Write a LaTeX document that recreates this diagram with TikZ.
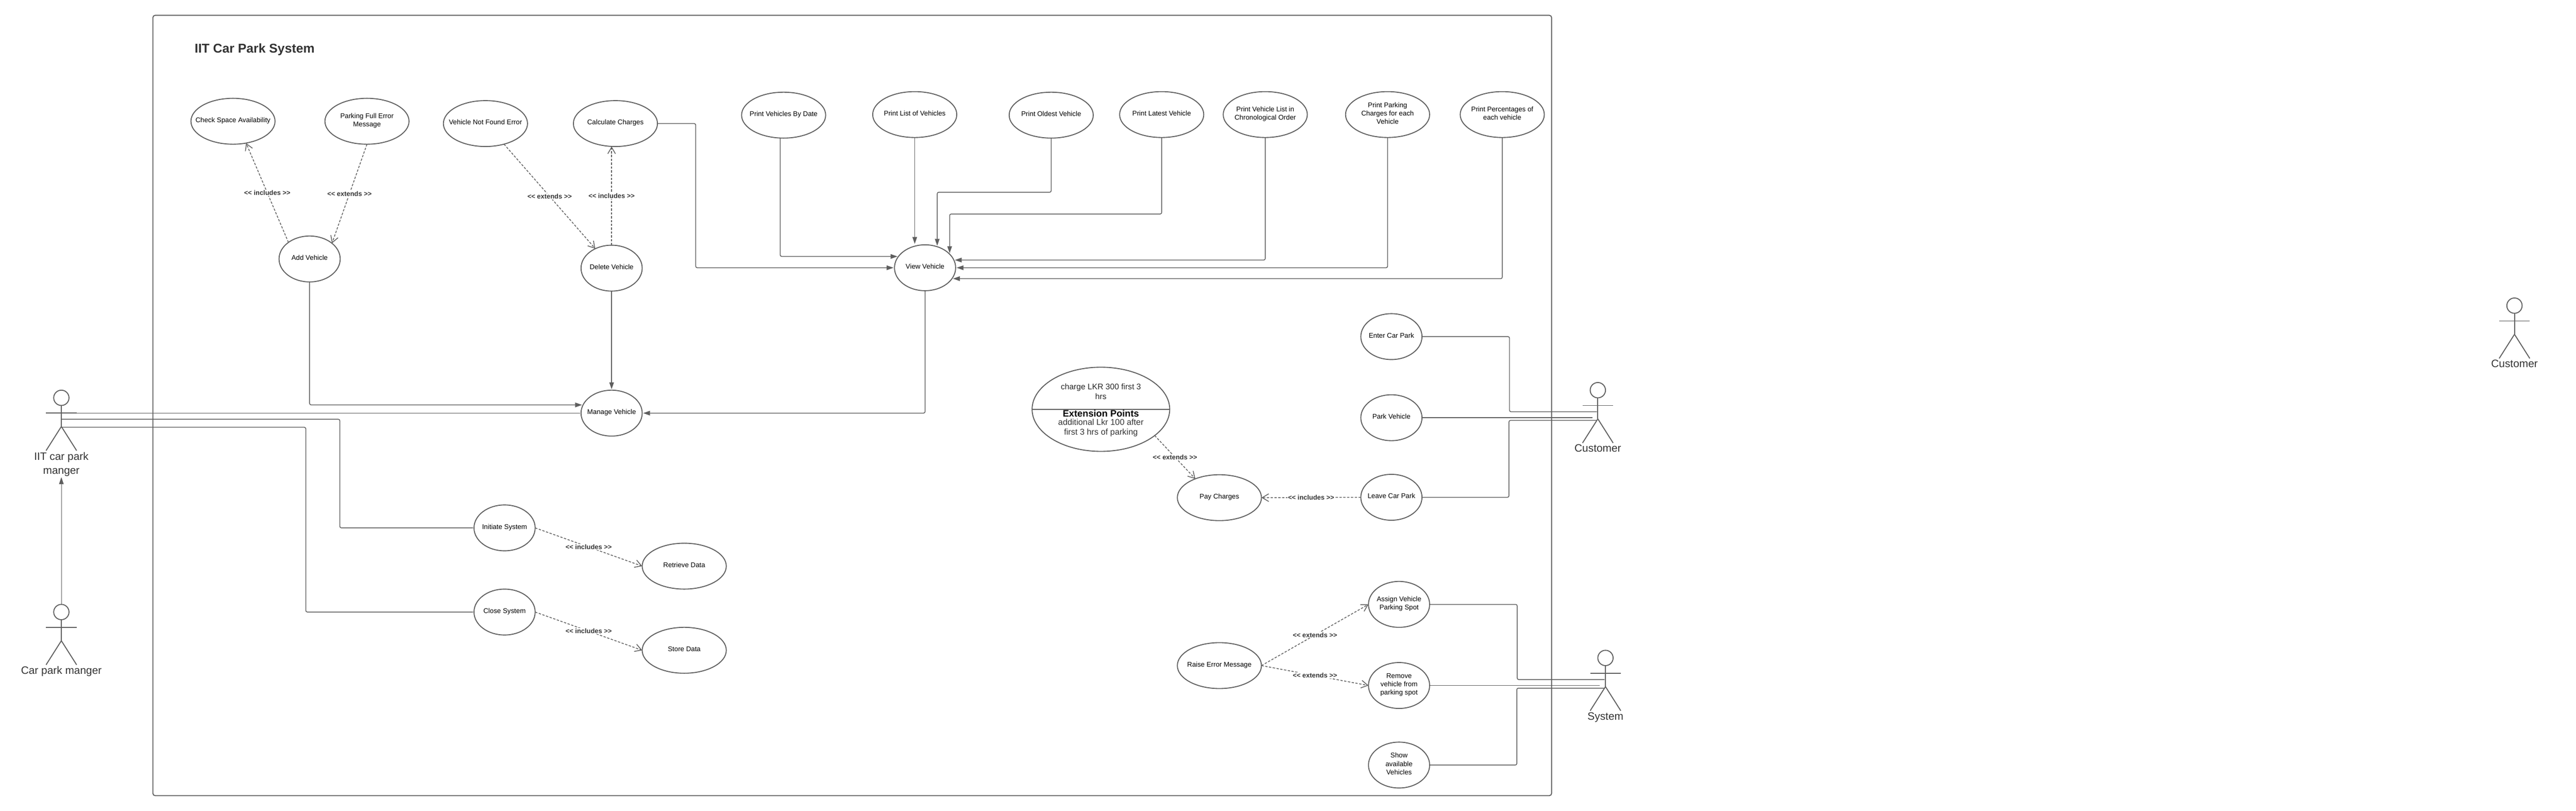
\documentclass[tikz,border=0pt]{standalone}
\usepackage{fontspec}
\setmainfont{Liberation Sans}
\usetikzlibrary{arrows.meta,shapes.geometric}

\definecolor{linegray}{HTML}{5E5E5E}
\definecolor{textgray}{HTML}{333333}

\tikzset{
	>={Triangle[length=0.36cm,width=0.24cm]},
	usecase/.style = {ellipse, draw=linegray, line width=0.05cm, inner xsep=-1.5cm, inner ysep=-0.8cm, outer sep=0pt, align=center, minimum height=2.4cm, font=\fontsize{10.2}{12.4}\selectfont, execute at end node={\rule[-0.14cm]{0pt}{0.14cm}}},
	wide/.style = {usecase, minimum width=4.4cm},
	narrow/.style = {usecase, minimum width=3.2cm},
	conn/.style = {draw=linegray, line width=0.04cm, rounded corners=0.08cm, shorten >=0.05cm},
	dep/.style = {draw=linegray, line width=0.04cm, dash pattern=on 0.12cm off 0.08cm, -{Straight Barb[length=0.34cm,width=0.4cm]}},
	deplabel/.style = {fill=white, inner sep=0.03cm, text=textgray, font=\fontsize{9.9}{12}\selectfont\bfseries},
	actorhead/.style = {circle, draw=linegray, line width=0.05cm, minimum size=0.8cm, inner sep=0pt, outer sep=0pt},
	actorline/.style = {draw=linegray, line width=0.05cm},
	actorlabel/.style = {anchor=north, inner sep=0pt, align=center, text=textgray, font=\fontsize{16}{20.5}\selectfont},
}

\newcommand{\stickman}[4]{
	\draw (#2,#3) node[actorhead] (#1) {};
	\draw [actorline] (#1.south) -- ++(0,-1.1) coordinate (#1hip);
	\draw [actorline] ([xshift=-0.8cm,yshift=-0.4cm]#1.south) -- ([xshift=0.8cm,yshift=-0.4cm]#1.south);
	\draw [actorline] (#1hip) -- ++(-0.8,-1.26);
	\draw [actorline] (#1hip) -- ++(0.8,-1.26);
	\path (#1hip) ++(0,-1.34) node[actorlabel] (#1lab) {#4};
}

\begin{document}
\begin{tikzpicture}
	\useasboundingbox (0,0) rectangle (134.78,42.4);

	\draw [actorline, rounded corners=0.12cm] (8,0.8) rectangle (81.18,41.6);
	\draw (10.18,39.82) node[anchor=west, inner sep=0pt, text=textgray, font=\fontsize{19}{23}\selectfont\bfseries] (title) {IIT Car Park System};

	\draw (12.19,36.06) node[wide] (check) {Check Space Availability};
	\draw (19.2,36.06) node[wide] (full) {Parking Full Error\\Message};
	\draw (25.4,35.94) node[wide] (notfound) {Vehicle Not Found Error};
	\draw (32.2,35.94) node[wide] (calc) {Calculate Charges};
	\draw (16.2,28.86) node[narrow] (add) {Add Vehicle};
	\draw (32,28.38) node[narrow] (del) {Delete Vehicle};
	\draw (32,20.8) node[narrow] (manage) {Manage Vehicle};

	\draw (41,36.38) node[wide] (date) {Print Vehicles By Date};
	\draw (47.86,36.41) node[wide] (list) {Print List of Vehicles};
	\draw (55,36.38) node[wide] (oldest) {Print Oldest Vehicle};
	\draw (60.78,36.41) node[wide] (latest) {Print Latest Vehicle};
	\draw (66.2,36.41) node[wide] (chron) {Print Vehicle List in\\Chronological Order};
	\draw (72.6,36.41) node[wide] (charges) {Print Parking\\Charges for each\\Vehicle};
	\draw (78.6,36.41) node[wide] (percent) {Print Percentages of\\each vehicle};
	\draw (48.4,28.4) node[narrow] (view) {View Vehicle};

	\draw (26.4,14.8) node[narrow] (init) {Initiate System};
	\draw (26.4,10.4) node[narrow] (close) {Close System};
	\draw (35.8,12.8) node[wide] (retrieve) {Retrieve Data};
	\draw (35.8,8.4) node[wide] (store) {Store Data};

	\draw (72.8,24.8) node[narrow] (enter) {Enter Car Park};
	\draw (72.8,20.56) node[narrow] (park) {Park Vehicle};
	\draw (72.8,16.4) node[narrow] (leave) {Leave Car Park};
	\draw (63.8,16.38) node[wide] (pay) {Pay Charges};
	\draw (63.8,7.6) node[wide] (raise) {Raise Error Message};
	\draw (73.2,10.8) node[narrow] (assign) {Assign Vehicle\\Parking Spot};
	\draw (73.2,6.56) node[narrow] (remove) {Remove\\vehicle from\\parking spot};
	\draw (73.2,2.4) node[narrow] (show) {Show\\available\\Vehicles};

	\draw (57.6,21) node[usecase, minimum width=7.2cm, minimum height=4.4cm] (ext) {};
	\draw [actorline] (ext.west) -- (ext.east);
	\draw (57.6,21.94) node[align=center, inner sep=0pt, text=black!85, font=\fontsize{12}{14.6}\selectfont] (extcharge) {charge LKR 300 first 3\\hrs};
	\draw (57.6,20.77) node[inner sep=0pt, font=\fontsize{14}{16}\selectfont\bfseries] (exttitle) {Extension Points};
	\draw (57.6,20.04) node[align=center, inner sep=0pt, text=textgray, font=\fontsize{12.5}{14.8}\selectfont] (exttext) {additional Lkr 100 after\\first 3 hrs of parking};

	\stickman{mgr}{3.21}{21.6}{IIT car park\\manger}
	\stickman{boss}{3.21}{10.4}{Car park manger}
	\stickman{cust}{83.6}{22}{Customer}
	\stickman{sys}{84}{8}{System}
	\stickman{other}{131.56}{26.42}{Customer}

	\coordinate (mgrA) at (3.21,20.8);
	\coordinate (mgrB) at (3.21,20.48);
	\coordinate (mgrC) at (3.21,20.06);
	\coordinate (custA) at (83.6,20.87);
	\coordinate (custB) at (83.36,20.56);
	\coordinate (custC) at (83.6,20.42);
	\coordinate (sysA) at (84,6.87);
	\coordinate (sysB) at (83.74,6.56);
	\coordinate (sysC) at (84,6.42);

	\draw [dep] (add.142) -- node[deplabel] {<{}< includes >{}>} (check.-59);
	\draw [dep] (full.south) -- node[deplabel] {<{}< extends >{}>} (add.35);
	\draw [dep] (notfound.-48) -- node[deplabel] {<{}< extends >{}>} (del.130);
	\draw [dep] (del.north) -- node[deplabel] {<{}< includes >{}>} (del.north |- calc.south);
	\draw [dep] (init.east) -- node[deplabel] {<{}< includes >{}>} (retrieve.west);
	\draw [dep] (close.east) -- node[deplabel] {<{}< includes >{}>} (store.west);
	\draw [dep] (ext.-26) -- node[deplabel] {<{}< extends >{}>} (pay.142);
	\draw [dep] (leave.west) -- node[deplabel] {<{}< includes >{}>} (pay.east);
	\draw [dep] (raise.east) -- node[deplabel] {<{}< extends >{}>} (assign.west);
	\draw [dep] (raise.east) -- node[deplabel] {<{}< extends >{}>} (remove.west);

	\draw [conn, ->] (add.south) |- (manage.164);
	\draw [conn, ->] (del.south) -- (manage.north);
	\draw [conn, ->] (view.south) |- (manage.east);
	\draw [conn] (mgrA) -- (manage.west);
	\draw [conn] (mgrB) -- ++(14.57,0) |- (init.west);
	\draw [conn] (mgrC) -- ++(12.79,0) |- (close.west);
	\draw [conn, ->, line width=0.02cm] (boss.north) -- (mgrlab.south);

	\draw [conn, ->] (calc.east) -- ++(2,0) |- (view.west);
	\draw [conn, ->] ([xshift=-0.18cm]date.south) |- (view.157);
	\draw [conn, ->] (list.south) -- (list.south |- view.north);
	\draw [conn, ->] (oldest.south) -- ++(0,-2.83) -| (view.60);
	\draw [conn, ->] (latest.south) -- ++(0,-4) -| (view.29);
	\draw [conn, ->] (chron.south) |- (view.15);
	\draw [conn, ->] (charges.south) |- (view.east);
	\draw [conn, ->] (percent.south) |- (view.-22);

	\draw [conn] (enter.east) -- ++(4.58,0) |- (custA);
	\draw [conn] (park.east) -- (custB);
	\draw [conn] (leave.east) -- ++(4.55,0) |- (custC);
	\draw [conn] (assign.east) -- ++(4.58,0) |- (sysA);
	\draw [conn] (remove.east) -- (sysB);
	\draw [conn] (show.east) -- ++(4.56,0) |- (sysC);
\end{tikzpicture}
\end{document}
